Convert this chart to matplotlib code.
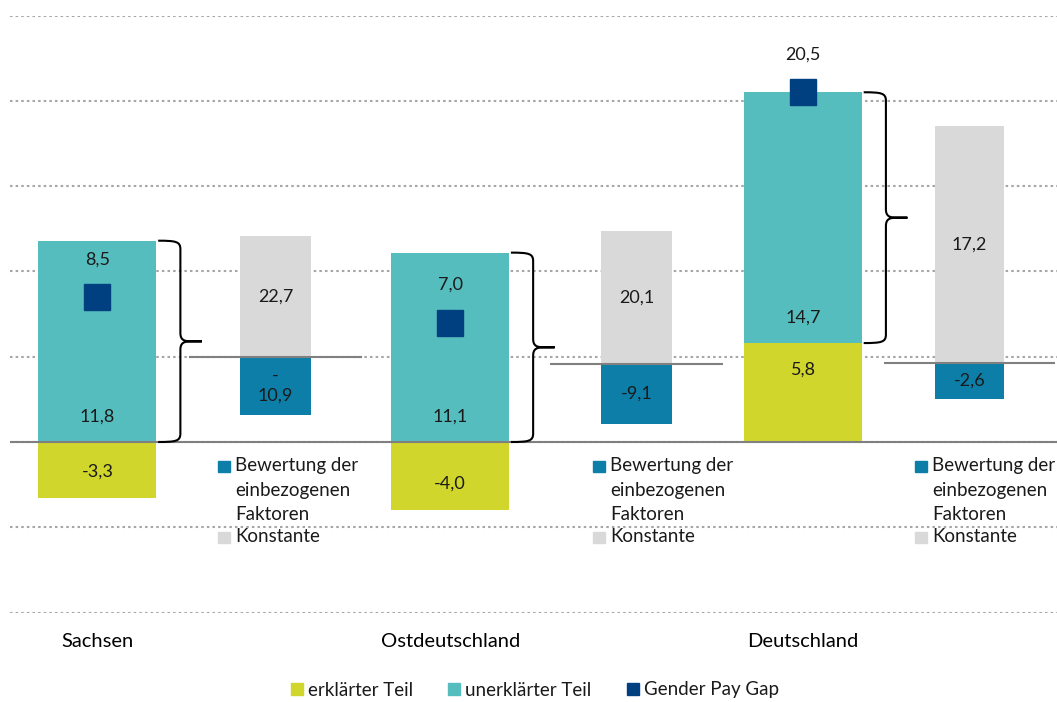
import matplotlib
matplotlib.use("Agg")
import matplotlib.pyplot as plt
from matplotlib.patches import Rectangle, PathPatch
from matplotlib.path import Path
from matplotlib.lines import Line2D

# ===== Data =====
REGIONS = ["Sachsen", "Ostdeutschland", "Deutschland"]
ERKLAERT = [-3.3, -4.0, 5.8]       # erklärter Teil
UNERKLAERT = [11.8, 11.1, 14.7]    # unerklärter Teil
GPG = [8.5, 7.0, 20.5]             # Gender Pay Gap
KONSTANTE = [22.7, 20.1, 17.2]
BEWERTUNG = [-10.9, -9.1, -2.6]    # Bewertung der einbezogenen Faktoren

MAIN_LEGEND = ["erklärter Teil", "unerklärter Teil", "Gender Pay Gap"]
INSET_LEGEND = ["Bewertung der\neinbezogenen\nFaktoren", "Konstante"]

# ===== Style / layout =====
W, H = 1057, 702
YELLOW = "#d0d62c"
TEAL = "#56bdbf"
NAVY = "#004080"
BLUE = "#0d7ea7"
GREY = "#d9d9d9"
LINE_GREY = "#808080"
GRID_GREY = "#a6a6a6"
TEXT = "#1a1a1a"
FS_NUM = 13       # data labels
FS_LEG = 13.5     # inset legends
FS_MAIN_LEG = 13.5
FS_CAT = 14.5     # category labels

# inset charts: baseline line extent (px), zero position (px), px per unit
INSET_LEFT = [189, 550, 884]
INSET_RIGHT = [362, 723, 1055]
INSET_ZERO = [357, 364, 363]
INSET_SCALE = [5.35, 6.6, 13.75]
INSET_WRAP = [True, False, False]
INSET_LEG_X = [218, 593, 915]

plt.rcParams["font.family"] = ["Lato", "DejaVu Sans"]
plt.rcParams["text.color"] = TEXT


def px_rect(left, top, right, bottom):
    return [left / W, 1 - bottom / H, (right - left) / W, (bottom - top) / H]


def fmt(v):
    return f"{v:.1f}".replace(".", ",")


def draw_brace(ax, xc, y_top, y_bot):
    x0, xv, xt = xc + 0.172, xc + 0.235, xc + 0.296
    ym = (y_top + y_bot) / 2
    r = 0.5
    verts, codes = [], []
    for ye, s in ((y_top, -1), (y_bot, 1)):
        verts += [(x0, ye),
                  (x0 + 0.8 * (xv - x0), ye), (xv, ye + s * 0.1 * r), (xv, ye + s * r),
                  (xv, ym - s * r),
                  (xv, ym - s * 0.2 * r), (xv + 0.15 * (xt - xv), ym), (xv + 0.5 * (xt - xv), ym),
                  (xt, ym)]
        codes += [Path.MOVETO, Path.CURVE4, Path.CURVE4, Path.CURVE4, Path.LINETO,
                  Path.CURVE4, Path.CURVE4, Path.CURVE4, Path.LINETO]
    ax.add_patch(PathPatch(Path(verts, codes), fill=False, edgecolor="black",
                           lw=1.5, zorder=4, clip_on=False))


fig = plt.figure(figsize=(W / 100, H / 100), dpi=100)

# ----- main chart -----
ax = fig.add_axes(px_rect(10, 15.5, 1057, 612.6))
ax.set_ylim(-10, 25)
ax.set_xlim(-0.248, 2.72)
ax.set_yticks(range(-10, 26, 5))
ax.yaxis.grid(True, color=GRID_GREY, linestyle=(0, (1.2, 1.5)), lw=1.5)
ax.set_axisbelow(True)
for sp in ax.spines.values():
    sp.set_visible(False)
ax.tick_params(axis="y", left=False, labelleft=False)
x = list(range(len(REGIONS)))
ax.set_xticks(x, REGIONS, fontsize=FS_CAT)
ax.tick_params(axis="x", length=0, pad=15)
ax.axhline(0, color=LINE_GREY, lw=1.5, zorder=3)

bw = 0.3345
bottoms = [max(e, 0) for e in ERKLAERT]
ax.bar(x, ERKLAERT, bw, color=YELLOW, zorder=2)
ax.bar(x, UNERKLAERT, bw, bottom=bottoms, color=TEAL, zorder=2)
ax.plot(x, GPG, "s", ms=18.5, color=NAVY, ls="none", zorder=5)

for i in x:
    e = ERKLAERT[i]
    sgn = 1 if e > 0 else -1
    ax.annotate(fmt(e), (i, e), xytext=(0, -sgn * 19), textcoords="offset points",
                ha="center", va="center", fontsize=FS_NUM, zorder=6)
    ax.annotate(fmt(UNERKLAERT[i]), (i, bottoms[i]), xytext=(0, 18),
                textcoords="offset points", ha="center", va="center", fontsize=FS_NUM, zorder=6)
    ax.annotate(fmt(GPG[i]), (i, GPG[i]), xytext=(0, 27), textcoords="offset points",
                ha="center", va="center", fontsize=FS_NUM, zorder=6)
    draw_brace(ax, i, bottoms[i] + UNERKLAERT[i], bottoms[i])

# ----- inset charts (Zerlegung unerklärter Teil) -----
for i in x:
    y_top_px, y_bot_px = 20, 440
    ins = fig.add_axes(px_rect(INSET_LEFT[i], y_top_px, INSET_RIGHT[i], y_bot_px))
    ins.set_xlim(-0.5, 0.5)
    s = INSET_SCALE[i]
    ins.set_ylim(-(y_bot_px - INSET_ZERO[i]) / s, (INSET_ZERO[i] - y_top_px) / s)
    ins.axis("off")
    ins.patch.set_alpha(0)
    ins.bar(0, KONSTANTE[i], 0.405, color=GREY)
    ins.bar(0, BEWERTUNG[i], 0.405, color=BLUE)
    ins.axhline(0, color=LINE_GREY, lw=1.5)
    ins.text(0, KONSTANTE[i] / 2, fmt(KONSTANTE[i]), ha="center", va="center", fontsize=FS_NUM)
    lab = fmt(BEWERTUNG[i])
    if INSET_WRAP[i]:
        lab = lab[0] + "\n" + lab[1:]
    ins.text(0, BEWERTUNG[i] / 2, lab, ha="center", va="center", fontsize=FS_NUM,
             linespacing=1.3)

    # legend of the inset
    lx = INSET_LEG_X[i]
    for lab_txt, col, y0 in ((INSET_LEGEND[0], BLUE, 466), (INSET_LEGEND[1], GREY, 537)):
        fig.add_artist(Rectangle((lx / W, 1 - (y0 + 5.5) / H), 12 / W, 11 / H,
                                 transform=fig.transFigure, color=col))
        for k, line in enumerate(lab_txt.split("\n")):
            fig.text((lx + 17) / W, 1 - (y0 + 24.5 * k) / H, line, ha="left",
                     va="center", fontsize=FS_LEG)

# ----- main legend -----
handles = [Line2D([], [], marker="s", ls="none", color=c, ms=8.5)
           for c in (YELLOW, TEAL, NAVY)]
fig.legend(handles, MAIN_LEGEND, loc="center", bbox_to_anchor=(535 / W, 1 - 690 / H),
           ncol=3, frameon=False, fontsize=FS_MAIN_LEG, handlelength=0.6, handletextpad=0.3,
           columnspacing=1.9)

fig.savefig("out.png", dpi=100)
